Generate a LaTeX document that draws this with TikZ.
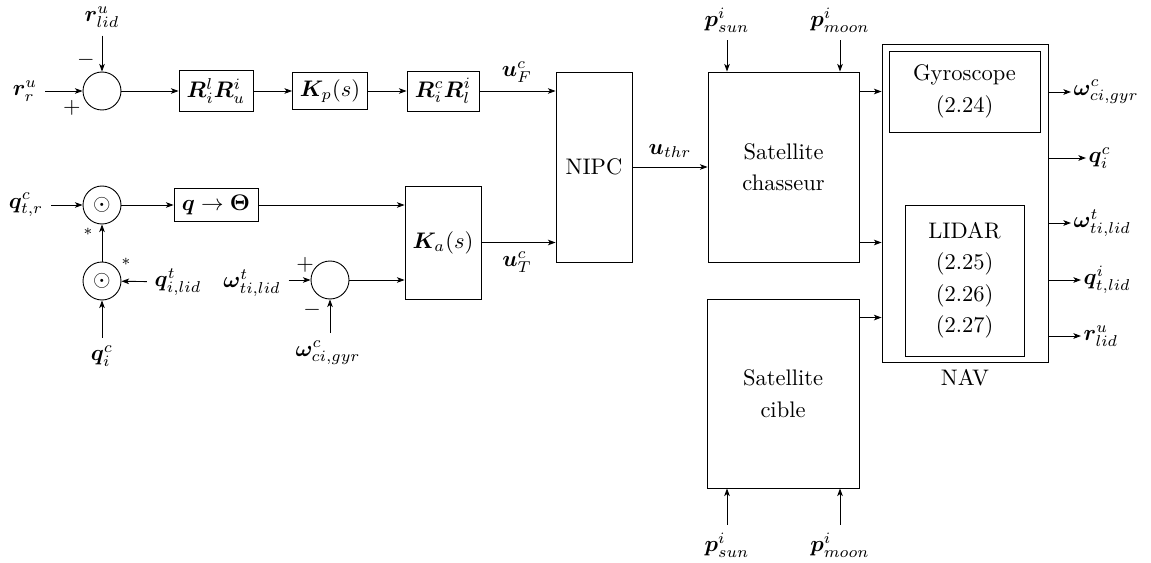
\documentclass[tikz,border=0pt]{standalone}
\usepackage{amsmath,bm}
\usetikzlibrary{arrows.meta,calc}
\def\pxu{0.4444pt}
\begin{document}
\begin{tikzpicture}[x=0.4444pt,y=-0.4444pt,>={Stealth[length=3.4pt,width=2.5pt,inset=0.9pt]},
  blk/.style={draw,inner sep=0pt,align=center},
  sumc/.style={draw,circle,minimum size={38*\pxu},inner sep=0pt},
  outl/.style={anchor=west,inner sep=1pt},
  sig/.style={inner sep=0pt},
  ml/.style={align=center,font=\fontsize{10}{14}\selectfont}]
\useasboundingbox (0,0) rectangle (1151,563);

% ---- top row
\node (rr) at (25,91) {$\bm{r}_r^u$};
\node[sumc] (s1) at (102,91) {};
\node (rlid) at (102,17) {$\bm{r}_{lid}^u$};
\node[sig] (m1) at (86,60) {$-$};
\node[sig] (p1) at (72,108) {$+$};
\node[blk,minimum width={74*\pxu},minimum height={41*\pxu}] (B1) at (216,91) {$\bm{R}_i^l\bm{R}_u^i$};
\node[blk,minimum width={75*\pxu},minimum height={37*\pxu}] (B2) at (330,91) {$\bm{K}_p(s)$};
\node[blk,minimum width={72*\pxu},minimum height={40*\pxu}] (B3) at (443,91) {$\bm{R}_i^c\bm{R}_l^i$};
\node (uF) at (517,72) {$\bm{u}_F^c$};

% ---- middle left
\node (qtr) at (26,205) {$\bm{q}_{t,r}^c$};
\node[sumc] (O1) at (102,205) {$\odot$};
\node[sumc] (O2) at (102,281) {$\odot$};
\node[sig] (st1) at (88,232) {$\scriptstyle\ast$};
\node[sig] (st2) at (126,262) {$\scriptstyle\ast$};
\node (qilid) at (178,282) {$\bm{q}_{i,lid}^t$};
\node (qic) at (102,356) {$\bm{q}_i^c$};
\node[blk,minimum width={84*\pxu},minimum height={33*\pxu}] (Q) at (216,205) {$\bm{q}\rightarrow\bm{\Theta}$};

\node (wti) at (252,283) {$\bm{\omega}_{ti,lid}^t$};
\node[sumc] (S2) at (330,280) {};
\node[sig] (p2) at (305,265) {$+$};
\node[sig] (m2) at (312,310) {$-$};
\node (wcg) at (328,353) {$\bm{\omega}_{ci,gyr}^c$};

\node[blk,minimum width={76*\pxu},minimum height={113*\pxu}] (KA) at (443,242.5) {$\bm{K}_a(s)$};
\node (uT) at (517,262) {$\bm{u}_T^c$};

% ---- NIPC and satellites
\node[blk,minimum width={76*\pxu},minimum height={190*\pxu}] (NIPC) at (594,167) {NIPC};
\node (uthr) at (670,151) {$\bm{u}_{thr}$};
\node[blk,ml,minimum width={151*\pxu},minimum height={190*\pxu}] (CH) at (783.5,167) {Satellite\\chasseur};
\node[blk,ml,minimum width={152*\pxu},minimum height={189*\pxu}] (CB) at (783,393.5) {Satellite\\cible};
\node (psun1) at (727,20) {$\bm{p}_{sun}^i$};
\node (pmoon1) at (840,20) {$\bm{p}_{moon}^i$};
\node (psun2) at (727,545) {$\bm{p}_{sun}^i$};
\node (pmoon2) at (840,545) {$\bm{p}_{moon}^i$};

% ---- NAV
\node[blk,minimum width={166*\pxu},minimum height={318*\pxu}] (NAV) at (965,203) {};
\node[blk,ml,minimum width={151*\pxu},minimum height={81*\pxu}] (GY) at (964.5,91.5) {Gyroscope\\(2.24)};
\node[blk,ml,minimum width={119*\pxu},minimum height={151*\pxu}] (LI) at (964.5,280.5) {LIDAR\\(2.25)\\(2.26)\\(2.27)};
\node (navl) at (965,378) {NAV};

\node[outl] (o1) at (1071,92) {$\bm{\omega}_{ci,gyr}^c$};
\node[outl] (o2) at (1086,158) {$\bm{q}_i^c$};
\node[outl] (o3) at (1071,223) {$\bm{\omega}_{ti,lid}^t$};
\node[outl] (o4) at (1081,280) {$\bm{q}_{t,lid}^i$};
\node[outl] (o5) at (1081,336) {$\bm{r}_{lid}^u$};

% ---- connectors
\draw[->] (rr) -- (s1);
\draw[->] (rlid) -- (s1);
\draw[->] (s1) -- (B1);
\draw[->] (B1) -- (B2);
\draw[->] (B2) -- (B3);
\draw[->] (B3.east) -- (B3.east -| NIPC.west);

\draw[->] (qtr) -- (O1);
\draw[->] (O1) -- (Q);
\draw[->] (Q.east) -- (Q.east -| KA.west);
\draw[->] (O2) -- (O1);
\draw[->] (qilid) -- (O2);
\draw[->] (qic) -- (O2);
\draw[->] (wti.east |- S2.west) -- (S2.west);
\draw[->] (wcg.north -| S2.south) -- (S2.south);
\draw[->] (S2.east) -- (S2.east -| KA.west);
\draw[->] (KA.east) -- (KA.east -| NIPC.west);

\draw[->] (NIPC) -- (CH);
\draw[->] (psun1) -- (psun1 |- CH.north);
\draw[->] (pmoon1) -- (pmoon1 |- CH.north);
\draw[->] (psun2) -- (psun2 |- CB.south);
\draw[->] (pmoon2) -- (pmoon2 |- CB.south);

\draw[->] (CH.east |- GY.west) -- (NAV.west |- GY.west);
\draw[->] (KA.east -| CH.east) -- (KA.east -| NAV.west);
\coordinate (c3) at ($(CB.north east)+(0,19)$);
\draw[->] (c3) -- (c3 -| NAV.west);

\draw[->] (NAV.east |- o1.west) -- (o1.west);
\draw[->] (NAV.east |- o2.west) -- (o2.west);
\draw[->] (NAV.east |- o3.west) -- (o3.west);
\draw[->] (NAV.east |- o4.west) -- (o4.west);
\draw[->] (NAV.east |- o5.west) -- (o5.west);
\end{tikzpicture}
\end{document}
